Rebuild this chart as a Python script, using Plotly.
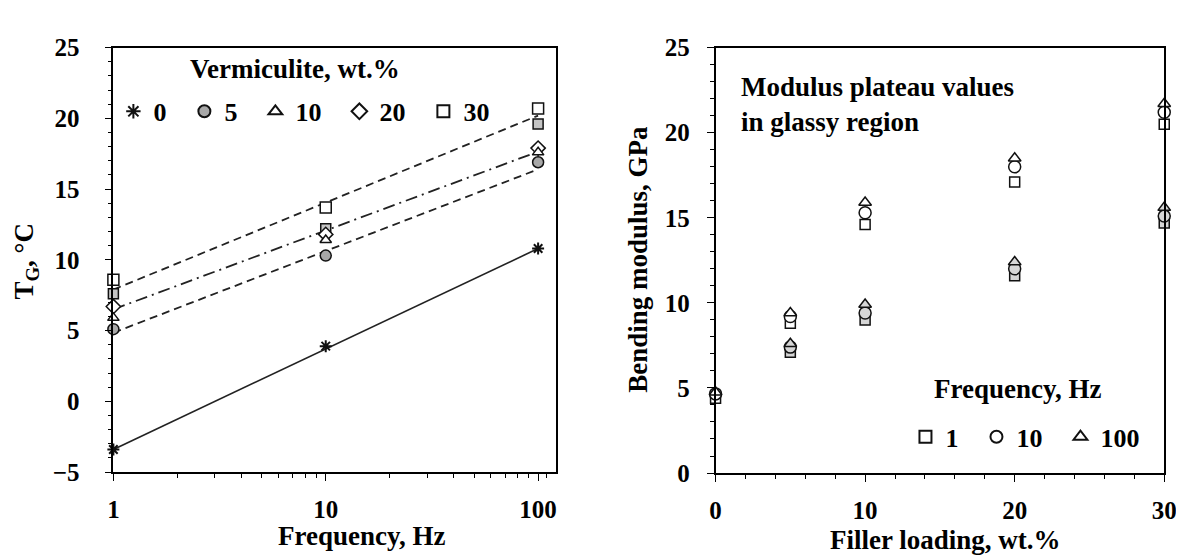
import plotly.graph_objects as go

# ---------------- data: left panel (glass transition vs frequency) ----------------
freq_hz = [1, 10, 100]
tg_0 = [-3.4, 3.9, 10.8]
tg_5 = [5.1, 10.3, 16.9]
tg_10 = [5.9, 11.4, 17.6]
tg_20 = [6.7, 11.8, 17.9]
tg_30 = [8.6, 13.7, 20.7]
tg_30_grey = [7.6, 12.2, 19.6]

trend_freq = [1, 100]
trend_0 = [-3.4, 10.8]
trend_5 = [4.85, 16.4]
trend_mid = [6.5, 17.65]
trend_30 = [7.9, 20.2]

# ---------------- data: right panel (bending modulus vs filler loading) -------------
load_a = [0, 5, 10, 20, 30]
mod_1hz_a = [4.4, 8.8, 14.6, 17.1, 20.5]
mod_10hz_a = [4.65, 9.2, 15.3, 18.0, 21.2]
mod_100hz_a = [4.75, 9.4, 15.9, 18.5, 21.7]

load_b = [5, 10, 20, 30]
mod_1hz_b = [7.1, 9.0, 11.6, 14.7]
mod_10hz_b = [7.4, 9.4, 12.0, 15.1]
mod_100hz_b = [7.6, 9.9, 12.4, 15.6]

W, H = 1184, 558
FONT = "Liberation Serif"
tick_font = dict(family=FONT, size=25, color="black", weight="bold")
title_font = dict(family=FONT, size=27, color="black", weight="bold")
leg_font = dict(family=FONT, size=26, color="black", weight="bold")

fig = go.Figure()

# trend lines (left)
line_col = "#222222"
for ys, dash, w in [(trend_0, "solid", 1.6), (trend_5, "8px,5px", 1.8),
                    (trend_mid, "12px,5px,2px,5px", 1.8), (trend_30, "8px,5px", 1.8)]:
    fig.add_trace(go.Scatter(x=trend_freq, y=ys, mode="lines", xaxis="x", yaxis="y",
                             line=dict(color=line_col, width=w, dash=dash),
                             showlegend=False, hoverinfo="skip"))

def mk(symbol, size, fill="white", lw=1.5):
    return dict(symbol=symbol, size=size, color=fill, line=dict(color="#111111", width=lw))

NB = "\u00a0"
fig.add_trace(go.Scatter(x=freq_hz, y=tg_30_grey, mode="markers", xaxis="x", yaxis="y",
                         marker=mk("square", 10, "#c4c4c4"), showlegend=False, cliponaxis=False))
fig.add_trace(go.Scatter(x=freq_hz, y=tg_5, mode="markers", xaxis="x", yaxis="y",
                         marker=mk("circle", 11, "#a8a8a8"), name="5" + NB * 2, legend="legend",
                         cliponaxis=False, legendrank=2))
fig.add_trace(go.Scatter(x=freq_hz, y=tg_20, mode="markers", xaxis="x", yaxis="y",
                         marker=mk("diamond", 11), name="20" + NB * 2, legend="legend",
                         cliponaxis=False, legendrank=4))
fig.add_trace(go.Scatter(x=freq_hz, y=tg_10, mode="markers", xaxis="x", yaxis="y",
                         marker=mk("triangle-up", 10), name="10" + NB * 2, legend="legend",
                         cliponaxis=False, legendrank=3))
fig.add_trace(go.Scatter(x=freq_hz, y=tg_30, mode="markers", xaxis="x", yaxis="y",
                         marker=mk("square", 11), name="30", legend="legend", cliponaxis=False,
                         legendrank=5))
fig.add_trace(go.Scatter(x=freq_hz, y=tg_0, mode="markers", xaxis="x", yaxis="y",
                         marker=dict(symbol="asterisk-open", size=10, color="#111111",
                                     line=dict(color="#111111", width=2)),
                         name="0" + NB * 2, legend="legend", cliponaxis=False, legendrank=1))

# right panel markers
for xs, ys, sym, size, fill, name, show in [
    (load_b, mod_1hz_b, "square", 10, "#d6d6d6", "1", False),
    (load_b, mod_10hz_b, "circle", 12, "#d6d6d6", "10", False),
    (load_b, mod_100hz_b, "triangle-up", 11, "#d6d6d6", "100", False),
    (load_a, mod_1hz_a, "square", 10, "white", "1" + NB * 2, True),
    (load_a, mod_10hz_a, "circle", 12, "white", "10" + NB * 2, True),
    (load_a, mod_100hz_a, "triangle-up", 11, "white", "100", True),
]:
    fig.add_trace(go.Scatter(x=xs, y=ys, mode="markers", xaxis="x2", yaxis="y2",
                             marker=mk(sym, size, fill), name=name, showlegend=show,
                             legend="legend2", cliponaxis=False))

ydom = [1 - 474 / H, 1 - 28 / H]
axis_common = dict(showline=True, linecolor="black", linewidth=1.6, mirror=True,
                   showgrid=False, zeroline=False, ticks="outside", ticklen=7,
                   tickcolor="black", tickwidth=1.4, tickfont=tick_font)

fig.update_layout(
    width=W, height=H, margin=dict(l=0, r=0, t=0, b=0),
    paper_bgcolor="white", plot_bgcolor="white",
    xaxis=dict(domain=[101 / W, 551 / W], type="log", range=[0, 2.085],
               tickvals=[1, 10, 100], ticktext=["1", "10", "100"],
               minor=dict(ticks="outside", ticklen=4, tickcolor="black",
                          tickvals=[2, 3, 4, 5, 6, 7, 8, 9, 20, 30, 40, 50, 60, 70, 80, 90, 110]),
               ticklabelstandoff=7, anchor="y", **axis_common),
    yaxis=dict(domain=ydom, range=[-5, 25], dtick=5, tick0=0,
               minor=dict(ticks="outside", ticklen=4, dtick=1, tickcolor="black"),
               ticklabelstandoff=20, anchor="x", **axis_common),
    xaxis2=dict(domain=[713 / W, 1169 / W], range=[0, 30], dtick=10,
                minor=dict(ticks="outside", ticklen=4, dtick=2, tickcolor="black"),
                ticklabelstandoff=7, anchor="y2", **axis_common),
    yaxis2=dict(domain=[1 - 475 / H, 1 - 28 / H], range=[0, 25], dtick=5,
                minor=dict(ticks="outside", ticklen=4, dtick=1, tickcolor="black"),
                ticklabelstandoff=12, anchor="x2", **axis_common),
    legend=dict(orientation="h", x=101 / W, y=1 - 95 / H, xanchor="left", yanchor="middle",
                bgcolor="rgba(0,0,0,0)", font=leg_font, itemsizing="constant",
                traceorder="normal"),
    legend2=dict(orientation="h", x=906 / W, y=1 - 437 / H, xanchor="left", yanchor="middle",
                 bgcolor="rgba(0,0,0,0)", font=leg_font, itemsizing="constant"),
    showlegend=True,
)

ann = [
    dict(text="Vermiculite, wt.%", x=286 / W, y=1 - 50 / H, xanchor="center", yanchor="middle"),
    dict(text="Frequency, Hz", x=1020 / W, y=1 - 387 / H, xanchor="center", yanchor="middle"),
    dict(text="Modulus plateau values<br>in glassy region", x=737 / W, y=1 - 88 / H,
         xanchor="left", yanchor="middle", align="left"),
    dict(text="Frequency, Hz", x=354 / W, y=1 - 541 / H, xanchor="center", yanchor="middle"),
    dict(text="Filler loading, wt.%", x=947 / W, y=1 - 545 / H, xanchor="center", yanchor="middle"),
    dict(text="T<sub>G</sub>, °C", x=12 / W, y=1 - 252 / H, xanchor="center", yanchor="middle",
         textangle=-90),
    dict(text="Bending modulus, GPa", x=634 / W, y=1 - 250 / H, xanchor="center",
         yanchor="middle", textangle=-90),
]
for a in ann:
    fig.add_annotation(xref="paper", yref="paper", showarrow=False, font=title_font, **a)

fig.write_html("out.html")
